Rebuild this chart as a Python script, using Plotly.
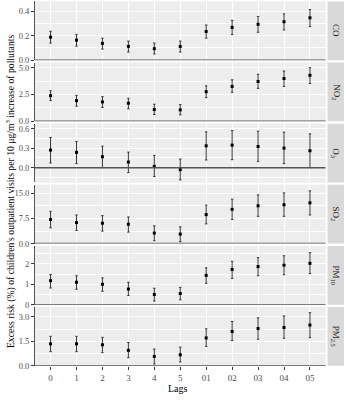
import plotly.graph_objects as go

# ---------------- data ----------------
lags = ["0", "1", "2", "3", "4", "5", "01", "02", "03", "04", "05"]
pollutants = ["CO", "NO<sub>2</sub>", "O<sub>3</sub>", "SO<sub>2</sub>", "PM<sub>10</sub>", "PM<sub>2.5</sub>"]

co_est = [0.188, 0.164, 0.137, 0.113, 0.094, 0.113, 0.234, 0.268, 0.293, 0.314, 0.346]
co_lo = [0.140, 0.115, 0.091, 0.067, 0.051, 0.067, 0.180, 0.209, 0.228, 0.247, 0.274]
co_hi = [0.236, 0.209, 0.180, 0.156, 0.140, 0.156, 0.287, 0.325, 0.357, 0.378, 0.413]

no2_est = [2.39, 1.93, 1.81, 1.69, 1.10, 1.07, 2.76, 3.25, 3.71, 3.99, 4.29]
no2_lo = [1.93, 1.41, 1.29, 1.17, 0.64, 0.61, 2.21, 2.70, 3.07, 3.25, 3.53]
no2_hi = [2.85, 2.42, 2.30, 2.15, 1.60, 1.56, 3.31, 3.87, 4.39, 4.69, 5.00]

o3_est = [0.272, 0.236, 0.169, 0.087, 0.020, -0.031, 0.338, 0.349, 0.328, 0.303, 0.262]
o3_lo = [0.072, 0.062, 0.000, -0.077, -0.138, -0.190, 0.118, 0.123, 0.097, 0.062, 0.000]
o3_hi = [0.467, 0.405, 0.333, 0.241, 0.190, 0.133, 0.554, 0.574, 0.564, 0.549, 0.523]

so2_est = [7.16, 6.27, 6.08, 5.78, 3.14, 2.84, 8.63, 10.20, 11.27, 11.57, 12.16]
so2_lo = [4.71, 3.92, 3.73, 3.43, 0.88, 0.59, 5.88, 7.16, 8.14, 8.14, 8.53]
so2_hi = [9.61, 8.53, 8.33, 7.94, 5.29, 5.00, 11.47, 13.24, 14.50, 15.10, 15.70]

pm10_est = [1.18, 1.10, 1.00, 0.77, 0.50, 0.55, 1.44, 1.73, 1.87, 1.94, 2.03]
pm10_lo = [0.82, 0.76, 0.66, 0.45, 0.18, 0.24, 1.05, 1.29, 1.42, 1.47, 1.53]
pm10_hi = [1.48, 1.42, 1.32, 1.10, 0.81, 0.85, 1.81, 2.13, 2.31, 2.40, 2.55]

pm25_est = [1.35, 1.35, 1.29, 0.95, 0.58, 0.68, 1.71, 2.11, 2.29, 2.35, 2.50]
pm25_lo = [0.87, 0.87, 0.81, 0.50, 0.12, 0.24, 1.19, 1.55, 1.63, 1.69, 1.73]
pm25_hi = [1.81, 1.81, 1.75, 1.43, 1.03, 1.15, 2.27, 2.72, 2.94, 3.06, 3.26]

est = [co_est, no2_est, o3_est, so2_est, pm10_est, pm25_est]
lo = [co_lo, no2_lo, o3_lo, so2_lo, pm10_lo, pm25_lo]
hi = [co_hi, no2_hi, o3_hi, so2_hi, pm10_hi, pm25_hi]

# axis settings per panel
y_ranges = [[0, 0.479], [0, 5.47], [-0.23, 0.68], [0, 17.5], [0, 2.88], [0, 3.6]]
y_dticks = [0.2, 2.5, 0.3, 7.5, 1, 1.5]
y_formats = [".1f", ".1f", ".1f", ".1f", ".0f", ".1f"]

# ---------------- layout geometry ----------------
W, H = 346, 400
px_left, px_right = 35, 325.5
strip_l, strip_r = 327.5, 344
bottoms = [61 + 61.9 * k for k in range(6)]
panel_h = 59.5

FONT = "Liberation Serif"
PANEL_BG = "#EDEDED"

fig = go.Figure()
shapes = []
annotations = []

for k in range(6):
    xa = "x" if k == 0 else f"x{k+1}"
    ya = "y" if k == 0 else f"y{k+1}"
    minus = [e - l for e, l in zip(est[k], lo[k])]
    plus = [h - e for e, h in zip(est[k], hi[k])]
    fig.add_trace(go.Scatter(
        x=lags, y=est[k], mode="markers", xaxis=xa, yaxis=ya,
        marker=dict(color="black", size=3, symbol="square"),
        error_y=dict(type="data", symmetric=False, array=plus, arrayminus=minus,
                     color="#222222", thickness=0.9, width=1.2),
        showlegend=False, cliponaxis=False,
    ))
    y0 = 1 - bottoms[k] / H
    y1 = 1 - (bottoms[k] - panel_h) / H
    xkey = "xaxis" if k == 0 else f"xaxis{k+1}"
    ykey = "yaxis" if k == 0 else f"yaxis{k+1}"
    last = (k == 5)
    fig.layout[xkey] = dict(
        domain=[px_left / W, px_right / W], anchor=ya,
        type="category", categoryorder="array", categoryarray=lags,
        range=[-0.6, 10.6],
        showgrid=True, gridcolor="white", gridwidth=1,
        showticklabels=last, ticks="outside" if last else "", ticklen=3,
        tickcolor="#333333", tickwidth=1,
        tickfont=dict(family=FONT, size=9, color="#4d4d4d"),
        showline=False, zeroline=False,
        matches=None if k == 0 else "x",
    )
    fig.layout[ykey] = dict(
        domain=[y0, y1], anchor=xa, range=y_ranges[k],
        tick0=0, dtick=y_dticks[k], tickformat=y_formats[k],
        showgrid=True, gridcolor="white", gridwidth=1,
        minor=dict(showgrid=True, gridcolor="white", gridwidth=0.5, dtick=y_dticks[k] / 2, tick0=0),
        ticks="outside", ticklen=3, tickcolor="#333333", tickwidth=1,
        tickfont=dict(family=FONT, size=8.5, color="#4d4d4d"),
        showline=True, linecolor="#555555", linewidth=1,
        zeroline=False,
    )
    # panel background
    shapes.append(dict(type="rect", xref="paper", yref="paper",
                       x0=px_left / W, x1=px_right / W, y0=y0, y1=y1,
                       fillcolor=PANEL_BG, line=dict(width=0), layer="below"))
    # horizontal reference line at 0
    shapes.append(dict(type="line", xref=f"{xa} domain", yref=ya,
                       x0=0, x1=1, y0=0, y1=0,
                       line=dict(color="#555555", width=1.5), layer="above"))
    # strip
    shapes.append(dict(type="rect", xref="paper", yref="paper",
                       x0=strip_l / W, x1=strip_r / W, y0=y0, y1=y1,
                       fillcolor="#D9D9D9", line=dict(width=0), layer="below"))
    annotations.append(dict(text=pollutants[k], xref="paper", yref="paper",
                            x=(strip_l + strip_r) / 2 / W, y=(y0 + y1) / 2,
                            showarrow=False, textangle=90,
                            font=dict(family=FONT, size=9, color="#1a1a1a"),
                            xanchor="center", yanchor="middle"))

annotations.append(dict(
    text="Excess risk (%) of children's outpatient visits per 10 μg/m<sup>3</sup> increase of pollutants",
    xref="paper", yref="paper", x=10.5 / W, y=1 - 194 / H,
    showarrow=False, textangle=-90,
    font=dict(family=FONT, size=9.7, color="black"),
    xanchor="center", yanchor="middle"))
annotations.append(dict(
    text="Lags", xref="paper", yref="paper", x=178 / W, y=1 - 393 / H,
    showarrow=False, font=dict(family=FONT, size=10, color="black"),
    xanchor="center", yanchor="middle"))

fig.update_layout(
    width=W, height=H,
    margin=dict(l=0, r=0, t=0, b=0),
    paper_bgcolor="white", plot_bgcolor=PANEL_BG,
    shapes=shapes, annotations=annotations,
    font=dict(family=FONT),
)

fig.write_html("out.html", config={"displayModeBar": False},
               post_script="document.body.style.margin='0px';document.body.style.overflow='hidden';")
